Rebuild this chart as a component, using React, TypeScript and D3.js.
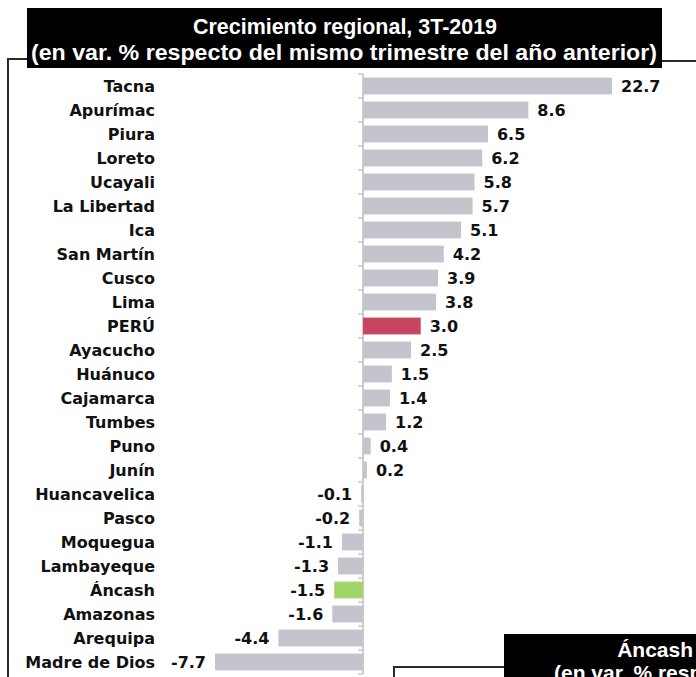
import React from "react";
import * as d3 from "d3";

const regions = ["Tacna","Apurímac","Piura","Loreto","Ucayali","La Libertad","Ica","San Martín","Cusco","Lima","PERÚ","Ayacucho","Huánuco","Cajamarca","Tumbes","Puno","Junín","Huancavelica","Pasco","Moquegua","Lambayeque","Áncash","Amazonas","Arequipa","Madre de Dios"];
const growth = [22.7,8.6,6.5,6.2,5.8,5.7,5.1,4.2,3.9,3.8,3.0,2.5,1.5,1.4,1.2,0.4,0.2,-0.1,-0.2,-1.1,-1.3,-1.5,-1.6,-4.4,-7.7];
const titleLines = ["Crecimiento regional, 3T-2019","(en var. % respecto del mismo trimestre del año anterior)"];
const nextTitle = ["Áncash","(en var. % respecto del mismo trimestre del año anterior)"];

const W = 696, H = 677;
const labelFont = "'DejaVu Sans', 'Verdana', sans-serif";
const titleFont = "'Liberation Sans Narrow', 'Arial Narrow', 'Liberation Sans', sans-serif";

function colorFor(name: string) {
  if (name === "PERÚ") return "#c9445f";
  if (name === "Áncash") return "#a2d468";
  return "#c4c4cc";
}

export default function App() {
  const y = d3.scaleBand<string>().domain(regions).range([74, 674]).paddingInner(0.3).paddingOuter(0.15);
  const x = d3.scaleLinear().domain([-7.7, 12.95]).range([215, 612]).clamp(true);
  const x0 = x(0);
  const bw = y.bandwidth();
  const step = y.step();
  const fmt = (v: number) => d3.format(".1f")(v).replace("\u2212", "-");
  return (
    <svg width={W} height={H} style={{ position: "absolute", left: 0, top: 0, background: "#fff" }}>
      {/* frame */}
      <g stroke="#2a2a2a" strokeWidth={2} fill="none">
        <polyline points={`8,${H} 8,59 30,59`} />
        <line x1={660} y1={61} x2={W} y2={61} />
        <polyline points={`394,${H} 394,667 506,667`} />
      </g>
      {/* title */}
      <rect x={27} y={8} width={635} height={60} fill="#000" />
      <text x={345} y={34} fill="#fff" fontFamily={titleFont} fontWeight="bold" fontSize={22} textAnchor="middle" textLength={304} lengthAdjust="spacingAndGlyphs">{titleLines[0]}</text>
      <text x={344} y={60} fill="#fff" fontFamily={titleFont} fontWeight="bold" fontSize={22} textAnchor="middle" textLength={626} lengthAdjust="spacingAndGlyphs">{titleLines[1]}</text>
      {/* axis */}
      <line x1={x0} y1={74} x2={x0} y2={674} stroke="#bdbdbd" strokeWidth={1.5} />
      {d3.range(regions.length + 1).map(i => {
        const yy = (y(regions[0]) as number) - (step - bw) / 2 + i * step;
        return <line key={"t" + i} x1={x0 - 5} x2={x0} y1={yy} y2={yy} stroke="#bdbdbd" strokeWidth={1.2} />;
      })}
      {/* bars */}
      {regions.map((r, i) => {
        const v = growth[i];
        const yy = y(r) as number;
        const xv = x(v);
        const left = Math.min(xv, x0);
        const wdt = Math.abs(xv - x0);
        const cy = yy + bw / 2;
        return (
          <g key={r}>
            <rect x={left} y={yy} width={Math.max(wdt, 1.5)} height={bw} fill={colorFor(r)} />
            <text x={155} y={cy} dy="0.36em" textAnchor="end" fontFamily={labelFont} fontWeight="bold" fontSize={16} fill="#111">{r}</text>
            <text x={v >= 0 ? xv + 9 : xv - 9} y={cy} dy="0.36em" textAnchor={v >= 0 ? "start" : "end"} fontFamily={labelFont} fontWeight="bold" fontSize={16} fill="#111">{fmt(v)}</text>
          </g>
        );
      })}
      {/* next chart title (cut off at the page edge) */}
      <rect x={504} y={634} width={W - 504} height={H - 634} fill="#000" />
      <text x={693} y={657} fill="#fff" fontFamily={titleFont} fontWeight="bold" fontSize={21} textAnchor="end">{nextTitle[0]}</text>
      <text x={554} y={680} fill="#fff" fontFamily={titleFont} fontWeight="bold" fontSize={21}>{nextTitle[1]}</text>
    </svg>
  );
}
